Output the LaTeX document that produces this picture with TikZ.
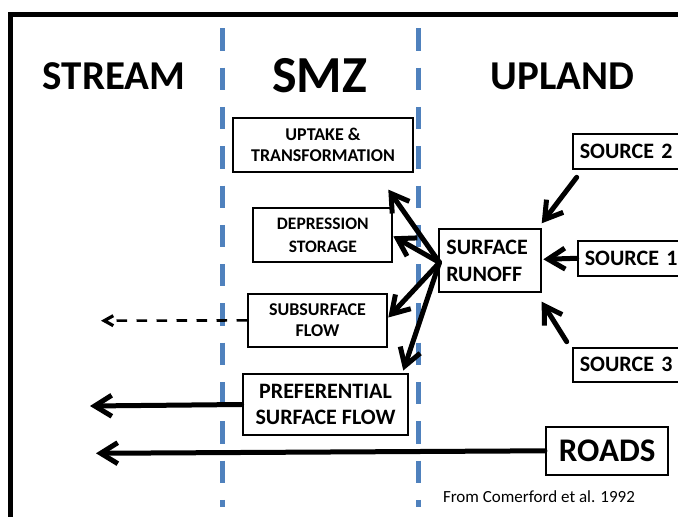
\documentclass[tikz,border=0pt]{standalone}
\usepackage{fontspec}
\setmainfont{Carlito}
\usetikzlibrary{arrows.meta,calc}
\definecolor{zoneblue}{HTML}{4F81BD}
\begin{document}
\begin{tikzpicture}[x=1pt,y=-1pt,
  box/.style={draw=black, line width=2.2pt, fill=white, inner sep=0pt, align=center},
  leftbox/.style={draw=black, line width=2.2pt, fill=white, inner ysep=0pt, inner xsep=7pt, align=left},
  txtS/.style={font=\bfseries\fontsize{18}{21.5}\selectfont},
  txtM/.style={font=\bfseries\fontsize{22}{26}\selectfont},
  zone/.style={draw=zoneblue, line width=5pt, dash pattern=on 22.3pt off 17pt},
  flow/.style={line width=5pt, line cap=round, -{Straight Barb[length=17pt,width=21pt]}},
  seep/.style={line width=2.6pt, dash pattern=on 10.7pt off 9.3pt, -{Straight Barb[length=9pt,width=10pt,line width=3.2pt]}},
  head/.style={font=\bfseries\fontsize{41}{48}\selectfont, anchor=base},
]
\useasboundingbox (0,0) rectangle (678,517);
\clip (0,0) rectangle (678,517);
% frame
\draw[line width=5pt] (10,560) -- (10,14.5) -- (720,14.5);
% zone boundaries
\draw[zone] (222,28.3) -- (222,506.7);
\draw[zone] (418,28.3) -- (418,506.7);
% headings
\node[head] (hstream) at (114,89) {STREAM};
\node[head, font=\bfseries\fontsize{52}{58}\selectfont] (hsmz) at (319.5,92) {SMZ};
\node[head] (hupland) at (562.5,89) {UPLAND};
% boxes
\node[box, txtS, minimum width=180pt, minimum height=53.4pt] (upt) at (323,145) {UPTAKE \&\\TRANSFORMATION};
\node[box, font=\bfseries\fontsize{17.5}{22.7}\selectfont, minimum width=139pt, minimum height=53.4pt] (dep) at (322.8,235) {DEPRESSION\\STORAGE};
\node[leftbox, font=\bfseries\fontsize{22}{27}\selectfont, text width=87.7pt, minimum height=63pt] (sr) at (490.2,260.8) {SURFACE\\RUNOFF};
\node[box, txtS, minimum width=138.4pt, minimum height=52.7pt] (sub) at (317.5,320.4) {SUBSURFACE\\FLOW};
\node[box, txtM, minimum width=165.6pt, minimum height=61pt] (pref) at (325.5,404.5) {PREFERENTIAL\\SURFACE FLOW};
\node[box, font=\bfseries\fontsize{33}{40}\selectfont, minimum width=122.3pt, minimum height=48.3pt] (roads) at (607.2,450.8) {ROADS};
\node[leftbox, txtM, anchor=west, text width=100pt, minimum height=35.3pt] (src2) at (571.7,151.7) {SOURCE 2};
\node[leftbox, txtM, anchor=west, text width=100pt, minimum height=34.7pt] (src1) at (576.7,258.3) {SOURCE 1};
\node[leftbox, txtM, anchor=west, text width=100pt, minimum height=34pt] (src3) at (571.7,364.7) {SOURCE 3};
\node[font=\fontsize{17}{20}\selectfont] (cite) at (539,496.7) {From Comerford et al. 1992};
% connector end points
\coordinate (fan) at (439.5,262.5);
\coordinate (tipU) at (388.3,189.6);
\coordinate (tipD) at (393.3,236.3);
\coordinate (tipS) at (388.3,317.5);
\coordinate (tipP) at (403.3,370.5);
\coordinate (s2start) at (576.7,177.3);
\coordinate (s2tip) at (541.7,223.3);
\coordinate (s1tip) at (543.3,259.3);
\coordinate (s3start) at (566.7,341.7);
\coordinate (s3tip) at (541.7,301.7);
\coordinate (stream1) at (101,320.7);
\coordinate (stream2) at (90,406);
\coordinate (stream3) at (96,453.3);
% flows from surface runoff into SMZ
\draw[flow] (fan) -- (tipU);
\draw[flow] (fan) -- (tipD);
\draw[flow] (fan) -- (tipS);
\draw[flow] (fan) -- (tipP);
% sources into surface runoff
\draw[flow] (s2start) -- (s2tip);
\draw[flow] (src1.west) -- (s1tip);
\draw[flow] (s3start) -- (s3tip);
% flows to stream
\draw[seep] (sub.west) -- (stream1);
\draw[flow] (pref.west) -- (stream2);
\draw[flow] (roads.west) -- (stream3);
\end{tikzpicture}
\end{document}
